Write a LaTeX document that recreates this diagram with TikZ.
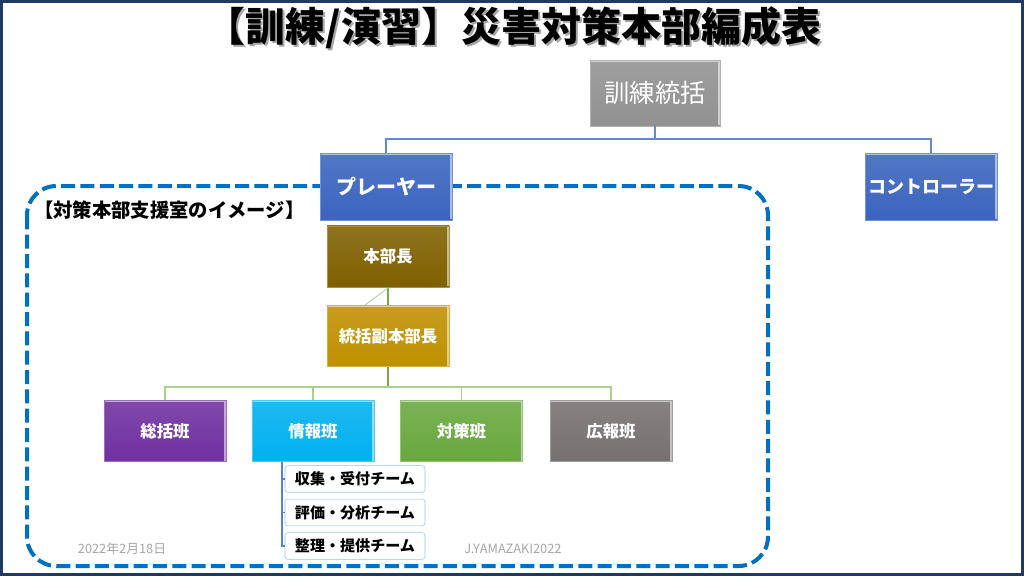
\documentclass[tikz,border=0pt]{standalone}
\usepackage{fontspec}
\setmainfont{Noto Sans CJK JP}
\usetikzlibrary{calc}
\definecolor{navy}{RGB}{32,56,100}
\definecolor{dashblue}{RGB}{0,112,192}
\definecolor{topline}{RGB}{100,135,205}
\definecolor{lgreen}{RGB}{169,209,142}
\definecolor{mgreen}{RGB}{112,173,71}
\definecolor{subline}{RGB}{90,130,200}
\definecolor{subborder}{RGB}{157,195,230}
\definecolor{footgray}{RGB}{166,166,166}
\definecolor{cgray}{RGB}{145,145,145}
\definecolor{cblue}{RGB}{58,100,190}
\definecolor{cbrown}{RGB}{127,96,0}
\definecolor{cgold}{RGB}{191,144,0}
\definecolor{cpurple}{RGB}{112,48,160}
\definecolor{ccyan}{RGB}{0,176,240}
\definecolor{cgreen}{RGB}{104,168,62}
\definecolor{cgraybrown}{RGB}{118,113,113}
\tikzset{
  bevel/.style={path picture={
      \draw[white,opacity=0.55,line width=1.2pt]
        ([xshift=0.6pt,yshift=-0.6pt]path picture bounding box.north west) --
        ([xshift=-0.6pt,yshift=-0.6pt]path picture bounding box.north east) --
        ([xshift=-0.6pt,yshift=0.6pt]path picture bounding box.south east);}},
  cbox/.style={top color=#1!88!white, bottom color=#1, draw=#1!70!white, line width=0.4pt,
      text=white, inner sep=0pt, align=center, bevel},
  bigbox/.style={minimum width=99pt, minimum height=50pt, font=\bfseries\fontsize{15}{17}\selectfont},
  midbox/.style={minimum width=91.5pt, minimum height=46pt, font=\bfseries\fontsize{12.3}{14}\selectfont},
  teambox/.style={draw=subborder, fill=white, rounded corners=2pt, minimum width=105pt,
      minimum height=20pt, inner sep=0pt, font=\bfseries\fontsize{11.3}{13}\selectfont},
  topconn/.style={draw=topline, line width=0.9pt},
  gconn/.style={draw=lgreen, line width=1pt},
  gmain/.style={draw=mgreen, line width=1.4pt},
  subconn/.style={draw=subline, line width=0.8pt},
  foot/.style={text=footgray, font=\fontsize{9.6}{11}\selectfont},
}
\begin{document}
\begin{tikzpicture}[x=0.75pt,y=-0.75pt]
\useasboundingbox (0,0) rectangle (1024,576);
\fill[white] (0,0) rectangle (1024,576);
\draw[navy,line width=1.9pt] (1.3,1.3) rectangle (1022.7,574.7);

% title
\node[text=gray!70, font=\bfseries\fontsize{30}{34}\selectfont] (titleshadow) at (515.5,30) {【訓練/演習】災害対策本部編成表};
\node[text=black, font=\bfseries\fontsize{30}{34}\selectfont] (title) at (513.5,28) {【訓練/演習】災害対策本部編成表};

% dashed support room frame
\draw[dashblue, line width=3pt, dash pattern=on 10.5pt off 4pt, rounded corners=22pt]
  (27,186) rectangle (768,566);
\node[anchor=west, font=\bfseries\fontsize{14.5}{16}\selectfont, inner sep=0pt] (roomlabel) at (34,210) {【対策本部支援室のイメージ】};

% top level
\node[cbox=cgray, minimum width=97.5pt, minimum height=49.5pt, font=\fontsize{19}{22}\selectfont] (lead) at (655,93) {訓練統括};
\node[cbox=cblue, bigbox] (player) at (386,186.5) {プレーヤー};
\node[cbox=cblue, bigbox, font=\bfseries\fontsize{13.5}{16}\selectfont] (ctrl) at (931,186.5) {コントローラー};
\coordinate (tj) at (655,139);
\draw[topconn] (lead.south) -- (tj);
\draw[topconn] (tj) -| (player.north);
\draw[topconn] (tj) -| (ctrl.north);

% headquarters
\node[cbox=cbrown, midbox] (chief) at (388,256.5) {本部長};
\node[cbox=cgold, midbox] (vice) at (388,336) {統括副本部長};
\draw[gmain] (chief.south) -- (vice.north);
\coordinate (diagA) at (388,288);
\coordinate (diagB) at (365,305);
\draw[lgreen, line width=0.6pt] (diagA) -- (diagB);

% sections
\node[cbox=cpurple, midbox] (soukatsu) at (165,431) {総括班};
\node[cbox=ccyan, midbox] (jouhou) at (313,431) {情報班};
\node[cbox=cgreen, midbox] (taisaku) at (461.5,431) {対策班};
\node[cbox=cgraybrown, midbox] (kouhou) at (611,431) {広報班};
\coordinate (gj) at (388,387);
\draw[gmain] (vice.south) -- (gj);
\draw[gconn] (gj) -| (soukatsu.north);
\draw[gconn] (gj) -| (jouhou.north);
\draw[gconn] (gj) -| (taisaku.north);
\draw[gconn] (gj) -| (kouhou.north);

% teams
\node[teambox] (t1) at (355,479) {収集・受付チーム};
\node[teambox] (t2) at (355,512.5) {評価・分析チーム};
\node[teambox] (t3) at (355,546) {整理・提供チーム};
\coordinate (sj) at (282,462);
\draw[subconn] (sj) |- (t1.west);
\draw[subconn] (sj) |- (t2.west);
\draw[subconn] (sj) |- (t3.west);

% footer
\node[foot] (date) at (122,549) {2022年2月18日};
\node[foot] (author) at (513,549) {J.YAMAZAKI2022};
\end{tikzpicture}
\end{document}
